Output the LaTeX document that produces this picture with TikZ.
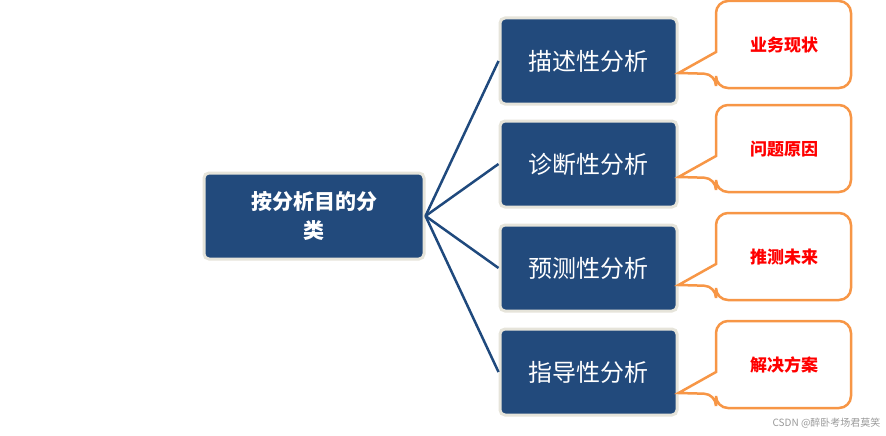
\documentclass[tikz,border=0pt]{standalone}
\usepackage{fontspec}
\setmainfont{Noto Sans CJK SC}
\definecolor{navy}{HTML}{1F497D}
\definecolor{boxfill}{HTML}{224A7C}
\definecolor{rim}{HTML}{E6E4DA}
\definecolor{org}{HTML}{F79646}
\begin{document}
\begin{tikzpicture}[x=1pt,y=-1pt,
  box/.style={draw=rim,line width=3pt,fill=boxfill,rounded corners=5pt,text=white,inner sep=0pt},
  link/.style={draw=navy,line width=2.5pt},
  call/.style={draw=org,line width=2.5pt,fill=white,rounded corners=12pt},
  ctext/.style={text=red,font=\bfseries\fontsize{17}{20}\selectfont}]
\useasboundingbox (0,0) rectangle (886,436);
\node[box,minimum width=220pt,minimum height=86pt,align=center,font=\bfseries\fontsize{21}{29}\selectfont] (root) at (314,216) {按分析目的分\\类};
\foreach \n/\y/\t in {a/61/描述性分析,b/164/诊断性分析,c/268/预测性分析,d/372/指导性分析}{
  \node[box,minimum width=177pt,minimum height=86pt,font=\fontsize{24}{28}\selectfont] (\n) at (588.5,\y) {\t};
  \draw[link] (root.east) -- (\n.west);
}
\foreach \n/\top/\t in {a/1/业务现状,b/105/问题原因,c/213/推测未来,d/321/解决方案}{
  \draw[call] (716,\top) -- (851,\top) -- (851,\top+87) -- (716,\top+87) -- (716,\top+73) [sharp corners] -- (\n.east |- 0,\top+72) -- (716,\top+51) [rounded corners=12pt] -- cycle;
  \node[ctext] (t\n) at (784,\top+44) {\t};
}
\node[text=gray!80,font=\fontsize{10}{12}\selectfont,anchor=south east] (wm) at (884,432) {CSDN @醉卧考场君莫笑};
\end{tikzpicture}
\end{document}
